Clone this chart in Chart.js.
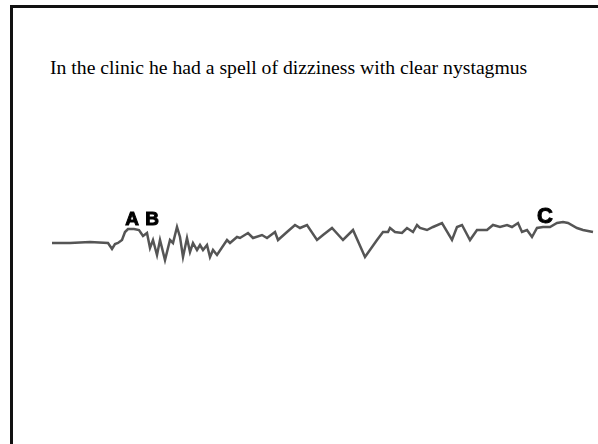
<!DOCTYPE html>
<html>
<head>
<meta charset="utf-8">
<script src="https://cdn.jsdelivr.net/npm/chart.js@4.4.1/dist/chart.umd.min.js"></script>
<style>
    html, body { margin: 0; padding: 0; background: #fff; }
    body { width: 598px; height: 444px; position: relative; overflow: hidden; }
    .marco { position: absolute; left: 10px; top: 5px; width: 600px; height: 460px;
             border-top: 3px solid #111; border-left: 3px solid #111; }
    .titulo { position: absolute; left: 50px; top: 58px; font-family: "Liberation Serif", "Times New Roman", serif;
              font-size: 19.7px; line-height: 19.7px; color: #000; white-space: nowrap; }
    #grafico { position: absolute; left: 0; top: 0; }
</style>
</head>
<body>
<div class="marco"></div>
<div class="titulo">In the clinic he had a spell of dizziness with clear nystagmus</div>
<canvas id="grafico" width="598" height="444"></canvas>
<script>
// trazado del nistagmo: tiempo (muestras) y posicion del ojo
const tiempo = [0, 18, 38, 56, 60, 63, 66, 70, 73, 76, 82, 87, 91, 95, 98, 101, 105, 108, 113, 118, 121, 125,
    128, 131, 135, 138, 141, 145, 148, 151, 155, 158, 161, 165, 175, 178, 185, 188, 196, 201, 210, 215, 223,
    226, 235, 243, 248, 255, 265, 271, 280, 291, 301, 313, 325, 331, 336, 338, 343, 350, 355, 361, 365, 368,
    375, 381, 390, 400, 405, 410, 418, 425, 435, 441, 448, 455, 460, 466, 470, 475, 480, 485, 491, 498, 505,
    511, 516, 525, 531, 541];
const posicion = [0, 0, 1, 0, -6, -1, 0, 3, 11, 14, 14, 13, 7, 10, -5, 3, -12, 3, -17, 3, 0, 16,
    6, -14, 5, -9, 0, -7, -2, -7, -2, -14, -7, -12, 3, 0, 6, 5, 10, 5, 8, 5, 11,
    3, 11, 18, 15, 18, 3, 8, 15, 3, 13, -14, 3, 11, 11, 15, 11, 10, 15, 11, 18, 15,
    13, 16, 20, 3, 16, 18, 3, 13, 13, 18, 16, 18, 16, 20, 11, 13, 6, 15, 16, 16, 20,
    21, 20, 15, 13, 11, 13];

const letras = ['A', 'B', 'C'];
const letrasX = [80, 100, 493];
const letrasY = [18, 18, 20];
const letrasTam = [19, 19, 22];

const pluginLetras = {
    id: 'letras',
    afterDatasetsDraw(chart) {
        const ctx = chart.ctx;
        const x = chart.scales.x;
        const y = chart.scales.y;
        ctx.save();
        ctx.fillStyle = '#000';
        ctx.strokeStyle = '#000';
        ctx.lineWidth = 1;
        ctx.textAlign = 'center';
        ctx.textBaseline = 'alphabetic';
        letras.forEach((l, i) => {
            ctx.font = 'bold ' + letrasTam[i] + 'px "Liberation Sans", Arial, sans-serif';
            const px = x.getPixelForValue(letrasX[i]);
            const py = y.getPixelForValue(letrasY[i]);
            ctx.fillText(l, px, py);
            ctx.strokeText(l, px, py);
        });
        ctx.restore();
    }
};

new Chart(document.getElementById('grafico').getContext('2d'), {
    type: 'line',
    data: {
        datasets: [{
            data: tiempo.map((t, i) => ({ x: t, y: posicion[i] })),
            borderColor: 'rgba(55, 55, 55, 0.85)',
            borderWidth: 2.5,
            pointRadius: 0,
            tension: 0,
            fill: false
        }]
    },
    options: {
        responsive: false,
        animation: false,
        layout: { padding: 0 },
        scales: {
            x: { type: 'linear', display: false, min: -52, max: 546 },
            y: { display: false, min: -201, max: 243 }
        },
        plugins: {
            legend: { display: false },
            tooltip: { enabled: false }
        }
    },
    plugins: [pluginLetras]
});
</script>
</body>
</html>
